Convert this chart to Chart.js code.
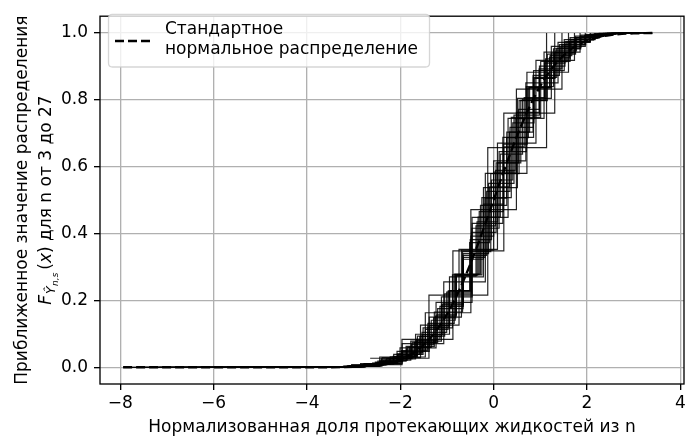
<!DOCTYPE html>
<html>
<head>
<meta charset="utf-8">
<script src="https://cdn.jsdelivr.net/npm/chart.js@4.4.1/dist/chart.umd.min.js"></script>
<style>
html,body{margin:0;padding:0;background:#fff;}
#wrap{width:691px;height:439px;position:relative;}
</style>
</head>
<body>
<div id="wrap"><canvas id="c" width="691" height="439"></canvas></div>
<script>
// n values (one step curve per n)
const nValues = [3,4,5,6,7,8,9,10,11,12,13,14,15,16,17,18,19,20,21,22,23,24,25,26,27];

// step positions (normalized fraction) for each n
const stepX = [
 [-2.646,-1.386,-0.126,1.134],
 [-3.055,-1.964,-0.873,0.218,1.309],
 [-3.416,-2.440,-1.464,-0.488,0.488,1.464],
 [-3.742,-2.851,-1.960,-1.069,-0.178,0.713,1.604],
 [-4.042,-3.217,-2.392,-1.567,-0.742,0.082,0.907,1.732],
 [-4.321,-3.549,-2.778,-2.006,-1.234,-0.463,0.309,1.080,1.852],
 [-4.583,-3.855,-3.127,-2.400,-1.673,-0.946,-0.218,0.509,1.236,1.964],
 [-4.831,-3.450,-2.760,-2.070,-1.380,-0.690,0,0.690,1.380,2.070],
 [-5.066,-3.750,-3.092,-2.434,-1.776,-1.119,-0.461,0.197,0.855,1.513,2.171],
 [-5.292,-3.402,-2.772,-2.142,-1.512,-0.882,-0.252,0.378,1.008,1.638,2.268],
 [-5.508,-3.692,-3.087,-2.481,-1.876,-1.271,-0.666,-0.061,0.545,1.150,1.755,2.360],
 [-5.715,-3.382,-2.799,-2.216,-1.633,-1.050,-0.467,0.117,0.700,1.283,1.866,2.449],
 [-5.916,-3.662,-3.099,-2.535,-1.972,-1.409,-0.845,-0.282,0.282,0.845,1.409,1.972,2.535],
 [-6.110,-3.382,-2.837,-2.291,-1.746,-1.200,-0.655,-0.109,0.436,0.982,1.528,2.073,2.619],
 [-6.298,-3.652,-3.123,-2.593,-2.064,-1.535,-1.006,-0.476,0.053,0.582,1.111,1.641,2.170,2.699],
 [-6.481,-3.395,-2.880,-2.366,-1.852,-1.337,-0.823,-0.309,0.206,0.720,1.234,1.749,2.263,2.777],
 [-6.658,-3.655,-3.154,-2.653,-2.153,-1.652,-1.151,-0.651,-0.150,0.350,0.851,1.352,1.852,2.353,2.854],
 [-6.831,-3.416,-2.928,-2.440,-1.952,-1.464,-0.976,-0.488,0,0.488,0.976,1.464,1.952,2.440,2.928],
 [-7.000,-3.667,-3.190,-2.714,-2.238,-1.762,-1.286,-0.810,-0.333,0.143,0.619,1.095,1.571,2.048,2.524,3.000],
 [-7.165,-3.443,-2.978,-2.512,-2.047,-1.582,-1.117,-0.651,-0.186,0.279,0.744,1.210,1.675,2.140,2.605,3.071],
 [-7.326,-3.686,-3.231,-2.776,-2.321,-1.866,-1.411,-0.956,-0.501,-0.046,0.410,0.865,1.320,1.775,2.230,2.685,3.140],
 [-7.483,-3.474,-3.029,-2.584,-2.138,-1.693,-1.247,-0.802,-0.356,0.089,0.535,0.980,1.425,1.871,2.316,2.762,3.207],
 [-7.638,-3.710,-3.273,-2.837,-2.400,-1.964,-1.528,-1.091,-0.655,-0.218,0.218,0.655,1.091,1.528,1.964,2.400,2.837,3.273],
 [-7.789,-3.509,-3.081,-2.653,-2.225,-1.797,-1.370,-0.942,-0.514,-0.086,0.342,0.770,1.198,1.626,2.054,2.482,2.910,3.338],
 [-7.937,-3.738,-3.318,-2.898,-2.478,-2.058,-1.638,-1.218,-0.798,-0.378,0.042,0.462,0.882,1.302,1.722,2.142,2.562,2.982,3.402]
];

// approximate distribution value after each step
const stepF = [
 [0.027,0.216,0.657,1],
 [0.0081,0.0837,0.3483,0.7599,1],
 [0.0024,0.0308,0.1631,0.4718,0.8319,1],
 [0.0007,0.0109,0.0705,0.2557,0.5798,0.8824,1],
 [0.0002,0.0038,0.0288,0.1260,0.3529,0.6706,0.9176,1],
 [0.0001,0.0013,0.0113,0.0580,0.1941,0.4482,0.7447,0.9424,1],
 [0,0.0004,0.0043,0.0253,0.0988,0.2703,0.5372,0.8040,0.9596,1],
 [0,0.0016,0.0106,0.0473,0.1503,0.3504,0.6172,0.8507,0.9718,1],
 [0,0.0006,0.0043,0.0216,0.0782,0.2103,0.4304,0.6873,0.8870,0.9802,1],
 [0,0.0017,0.0095,0.0386,0.1178,0.2763,0.5075,0.7472,0.9150,0.9862,1],
 [0,0.0007,0.0040,0.0182,0.0624,0.1654,0.3457,0.5794,0.7975,0.9363,0.9903,1],
 [0,0.0017,0.0083,0.0315,0.0933,0.2195,0.4158,0.6448,0.8392,0.9525,0.9932,1],
 [0,0.0007,0.0037,0.0152,0.0500,0.1311,0.2784,0.4845,0.7031,0.8732,0.9647,0.9953,1],
 [0,0.0016,0.0071,0.0257,0.0744,0.1753,0.3402,0.5501,0.7541,0.9006,0.9739,0.9967,1],
 [0,0.0007,0.0032,0.0127,0.0403,0.1046,0.2248,0.4032,0.6113,0.7981,0.9226,0.9807,0.9977,1],
 [0,0.0014,0.0061,0.0210,0.0596,0.1407,0.2783,0.4656,0.6673,0.8355,0.9400,0.9858,0.9984,1],
 [0,0.0006,0.0028,0.0105,0.0326,0.0839,0.1820,0.3345,0.5261,0.7178,0.8668,0.9538,0.9896,0.9989,1],
 [0,0.0013,0.0051,0.0171,0.0480,0.1133,0.2277,0.3920,0.5836,0.7625,0.8929,0.9645,0.9924,0.9992,1],
 [0,0.0006,0.0024,0.0087,0.0264,0.0676,0.1477,0.2770,0.4495,0.6373,0.8016,0.9144,0.9729,0.9944,0.9994,1],
 [0,0.0011,0.0043,0.0140,0.0387,0.0916,0.1865,0.3288,0.5058,0.6866,0.8355,0.9319,0.9793,0.9959,0.9996,1],
 [0,0.0005,0.0021,0.0072,0.0214,0.0546,0.1201,0.2291,0.3819,0.5601,0.7312,0.8644,0.9462,0.9843,0.9970,0.9997,1],
 [0,0.0010,0.0036,0.0115,0.0314,0.0742,0.1528,0.2750,0.4353,0.6114,0.7712,0.8889,0.9576,0.9881,0.9978,0.9998,1],
 [0,0.0005,0.0018,0.0060,0.0175,0.0442,0.0978,0.1894,0.3231,0.4882,0.6593,0.8065,0.9095,0.9668,0.9910,0.9984,0.9999,1],
 [0,0.0009,0.0030,0.0094,0.0255,0.0603,0.1253,0.2295,0.3726,0.5395,0.7035,0.8374,0.9267,0.9740,0.9933,0.9989,0.9999,1],
 [0,0.0004,0.0015,0.0050,0.0143,0.0359,0.0798,0.1566,0.2724,0.4227,0.5887,0.7437,0.8642,0.9409,0.9798,0.9949,0.9992,0.9999,1]
];

// standard normal distribution (dashed reference curve)
const normalX = [-7.94,-5,-4,-3.5,-3,-2.75,-2.5,-2.25,-2,-1.875,-1.75,-1.625,-1.5,-1.375,-1.25,-1.125,-1,-0.875,-0.75,-0.625,-0.5,-0.375,-0.25,-0.125,0,0.125,0.25,0.375,0.5,0.625,0.75,0.875,1,1.125,1.25,1.375,1.5,1.625,1.75,1.875,2,2.25,2.5,2.75,3,3.4];
const normalF = [0,0,0.00003,0.00023,0.00135,0.00298,0.00621,0.01222,0.02275,0.03040,0.04006,0.05208,0.06681,0.08457,0.10565,0.13029,0.15866,0.19079,0.22663,0.26599,0.30854,0.35383,0.40129,0.45026,0.5,0.54974,0.59871,0.64617,0.69146,0.73401,0.77337,0.80921,0.84134,0.86971,0.89435,0.91543,0.93319,0.94792,0.95994,0.96960,0.97725,0.98778,0.99379,0.99702,0.99865,0.99966];

const xTicks = [-8,-6,-4,-2,0,2,4];
const yTicks = [0,0.2,0.4,0.6,0.8,1.0];
const legendLines = ['Стандартное','нормальное распределение'];
const xTitle = 'Нормализованная доля протекающих жидкостей из n';
const yTitle1 = 'Приближенное значение распределения';
const yTitle2Parts = ['F','Ŷ','n,s','(','x',')',' для n от 3 до 27'];

const FONT = '"DejaVu Sans", "Liberation Sans", sans-serif';
const FS = 17;

const datasets = nValues.map((n, i) => ({
  label: 'n=' + n,
  data: stepX[i].map((x, j) => ({x: x, y: stepF[i][j]})),
  stepped: 'before',
  borderColor: 'rgba(0,0,0,0.85)',
  borderWidth: 1.2,
  pointRadius: 0,
  fill: false,
  order: 1
}));
datasets.push({
  label: legendLines.join(' '),
  data: normalX.map((x, j) => ({x: x, y: normalF[j]})),
  borderColor: '#000',
  borderWidth: 2.4,
  borderDash: [9, 4],
  cubicInterpolationMode: 'monotone',
  pointRadius: 0,
  fill: false,
  order: 0
});

function fmtX(v){ return v < 0 ? '\u2212' + Math.abs(v) : String(v); }

const decor = {
  id: 'decor',
  beforeDraw(chart) {
    const ctx = chart.ctx;
    ctx.save();
    ctx.fillStyle = '#fff';
    ctx.fillRect(0, 0, chart.width, chart.height);
    ctx.restore();
  },
  afterDraw(chart) {
    const ctx = chart.ctx;
    const a = chart.chartArea;
    ctx.save();
    // spines
    ctx.strokeStyle = '#000';
    ctx.lineWidth = 1.33;
    ctx.strokeRect(a.left, a.top, a.right - a.left, a.bottom - a.top);

    // legend
    const lx = 108.5, ly = 14.5, lw = 321, lh = 52.5;
    const r = 4;
    ctx.beginPath();
    ctx.moveTo(lx + r, ly);
    ctx.lineTo(lx + lw - r, ly);
    ctx.quadraticCurveTo(lx + lw, ly, lx + lw, ly + r);
    ctx.lineTo(lx + lw, ly + lh - r);
    ctx.quadraticCurveTo(lx + lw, ly + lh, lx + lw - r, ly + lh);
    ctx.lineTo(lx + r, ly + lh);
    ctx.quadraticCurveTo(lx, ly + lh, lx, ly + lh - r);
    ctx.lineTo(lx, ly + r);
    ctx.quadraticCurveTo(lx, ly, lx + r, ly);
    ctx.closePath();
    ctx.fillStyle = 'rgba(255,255,255,0.8)';
    ctx.fill();
    ctx.strokeStyle = 'rgba(204,204,204,0.8)';
    ctx.lineWidth = 1.3;
    ctx.stroke();

    ctx.beginPath();
    ctx.setLineDash([9, 4]);
    ctx.strokeStyle = '#000';
    ctx.lineWidth = 2.4;
    ctx.moveTo(115, 41);
    ctx.lineTo(150, 41);
    ctx.stroke();
    ctx.setLineDash([]);

    ctx.fillStyle = '#000';
    ctx.font = FS + 'px ' + FONT;
    ctx.textAlign = 'left';
    ctx.textBaseline = 'alphabetic';
    ctx.fillText(legendLines[0], 165, 33.5);
    ctx.fillText(legendLines[1], 165, 53.5);

    // x title
    ctx.textAlign = 'center';
    ctx.fillText(xTitle, (a.left + a.right) / 2, 432);

    // y title line 1
    const cy = (a.top + a.bottom) / 2;
    ctx.save();
    ctx.translate(27, cy);
    ctx.rotate(-Math.PI / 2);
    ctx.textAlign = 'center';
    ctx.fillText(yTitle1, 0, 0);
    ctx.restore();

    // y title line 2 (with subscripts)
    const segs = [
      {t: yTitle2Parts[0], f: 'italic ' + FS + 'px ' + FONT, dy: 0, gap: 0},
      {t: yTitle2Parts[1], f: 'italic 12.5px ' + FONT, dy: 3.5, gap: 1},
      {t: yTitle2Parts[2], f: 'italic 9px ' + FONT, dy: 7, gap: 0.5},
      {t: yTitle2Parts[3], f: FS + 'px ' + FONT, dy: 0, gap: 3},
      {t: yTitle2Parts[4], f: 'italic ' + FS + 'px ' + FONT, dy: 0, gap: 0},
      {t: yTitle2Parts[5], f: FS + 'px ' + FONT, dy: 0, gap: 0},
      {t: yTitle2Parts[6], f: FS + 'px ' + FONT, dy: 0, gap: 0}
    ];
    let total = 0;
    segs.forEach(s => { ctx.font = s.f; s.w = ctx.measureText(s.t).width; total += s.w + s.gap; });
    ctx.save();
    ctx.translate(51, cy);
    ctx.rotate(-Math.PI / 2);
    ctx.textAlign = 'left';
    let px = -total / 2;
    segs.forEach(s => {
      px += s.gap;
      ctx.font = s.f;
      ctx.fillText(s.t, px, s.dy);
      px += s.w;
    });
    ctx.restore();
    ctx.restore();
  }
};

new Chart(document.getElementById('c'), {
  type: 'line',
  data: { datasets: datasets },
  options: {
    responsive: false,
    animation: false,
    devicePixelRatio: 1,
    layout: { padding: { top: 7, right: 7, left: 0, bottom: 0 } },
    plugins: { legend: { display: false }, tooltip: { enabled: false } },
    elements: { line: { tension: 0 } },
    scales: {
      x: {
        type: 'linear',
        min: -8.435,
        max: 4.079,
        afterBuildTicks: s => { s.ticks = xTicks.map(v => ({value: v})); },
        afterFit: s => { s.height = 55; },
        ticks: {
          callback: v => fmtX(v),
          font: { family: FONT, size: FS },
          color: '#000',
          padding: 3,
          maxRotation: 0,
          autoSkip: false
        },
        grid: { color: '#b0b0b0', lineWidth: 1.33, tickColor: '#000', tickLength: 6, tickWidth: 1.33 },
        border: { display: false }
      },
      y: {
        type: 'linear',
        min: -0.05,
        max: 1.05,
        afterBuildTicks: s => { s.ticks = yTicks.map(v => ({value: v})); },
        afterFit: s => { s.width = 100; },
        ticks: {
          callback: v => v.toFixed(1),
          font: { family: FONT, size: FS },
          color: '#000',
          padding: 6,
          autoSkip: false
        },
        grid: { color: '#b0b0b0', lineWidth: 1.33, tickColor: '#000', tickLength: 6, tickWidth: 1.33 },
        border: { display: false }
      }
    }
  },
  plugins: [decor]
});
</script>
</body>
</html>
